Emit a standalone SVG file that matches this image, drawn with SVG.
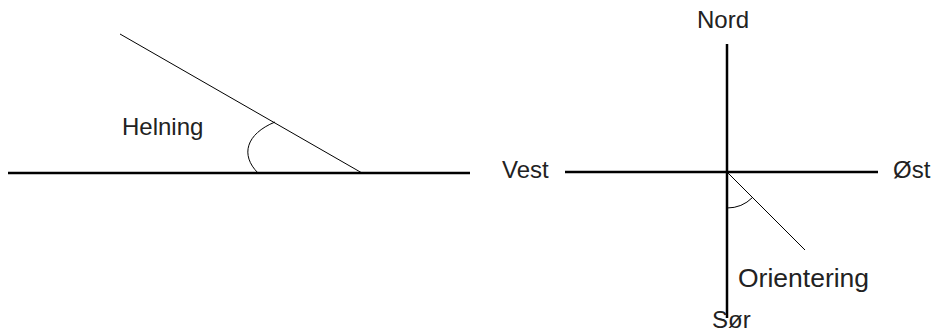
<svg xmlns="http://www.w3.org/2000/svg" width="934" height="332" viewBox="0 0 934 332">
<style>
.thick{stroke:#000;stroke-width:2.5;fill:none}
.thin{stroke:#000;stroke-width:1;fill:none}
.lbl{font-family:"Liberation Sans",Arial,sans-serif;font-size:24px;fill:#222}
</style>
<rect width="934" height="332" fill="#fff"/>
<g id="connectors">
<line class="thick" x1="8" y1="173" x2="470" y2="173"/>
<line class="thin" x1="120" y1="34" x2="362" y2="173"/>
<path class="thin" d="M275,122 C246,134 240,155 258,173"/>
<line class="thick" x1="727" y1="44" x2="727" y2="318"/>
<line class="thick" x1="565" y1="172" x2="878" y2="172"/>
<line class="thin" x1="727" y1="172" x2="805" y2="250"/>
<path class="thin" d="M727,208 A36,36 0 0 0 752.5,197.5"/>
</g>
<g id="helning"><text class="lbl" x="122" y="135">Helning</text></g>
<g id="nord"><text class="lbl" x="723" y="28" text-anchor="middle">Nord</text></g>
<g id="vest"><text class="lbl" x="502" y="178">Vest</text></g>
<g id="ost"><text class="lbl" x="893" y="178">Øst</text></g>
<g id="sor"><text class="lbl" x="712" y="328">Sør</text></g>
<g id="orientering"><text class="lbl" x="738" y="287" style="font-size:26.5px">Orientering</text></g>
</svg>
